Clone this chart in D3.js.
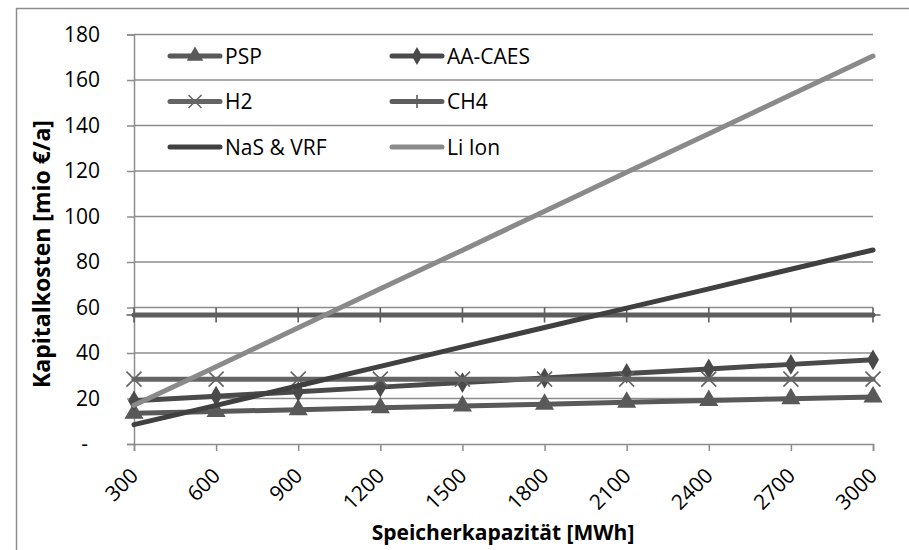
<!DOCTYPE html>
<html><head><meta charset="utf-8">
<script src="https://cdn.jsdelivr.net/npm/d3@7"></script>
<style>body{margin:0;background:#fff}svg{display:block}text{font-family:"Open Sans",sans-serif}</style>
</head><body><svg id="c" width="909" height="550"></svg>
<script>
const categories = [300,600,900,1200,1500,1800,2100,2400,2700,3000];
const yTicks = [0,20,40,60,80,100,120,140,160,180];
const psp    = [13.5,14.3,15.1,15.9,16.7,17.5,18.3,19.1,19.9,20.7];
const aacaes = [19,21,23,25,27,29,31,33,35,37];
const h2     = [28.5,28.5,28.5,28.5,28.5,28.5,28.5,28.5,28.5,28.5];
const ch4    = [56.7,56.7,56.7,56.7,56.7,56.7,56.7,56.7,56.7,56.7];
const nas    = [8.5,17,25.6,34.1,42.7,51.2,59.7,68.2,76.8,85.3];
const liion  = [17,34,51.1,68.2,85.2,102.3,119.4,136.4,153.5,170.5];
const seriesNames = ["PSP","AA-CAES","H2","CH4","NaS & VRF","Li Ion"];
const seriesValues = [psp,aacaes,h2,ch4,nas,liion];
const colors = ["#595959","#4a4a4a","#646464","#5e5e5e","#404040","#8a8a8a"];
const markers = ["triangle","diamond","x","plus","none","none"];

const svg = d3.select("#c");
svg.append("rect").attr("x",16.5).attr("y",8.5).attr("width",900).attr("height",560)
  .attr("fill","none").attr("stroke","#8c8c8c").attr("stroke-width",1.5);

const L=134,R=873,T=34.5,B=444;
const x = d3.scalePoint().domain(categories).range([L,R]);
const y = d3.scaleLinear().domain([0,180]).range([B,T]);

svg.append("g").selectAll("line").data(yTicks.filter(d=>d>0)).join("line")
  .attr("x1",L).attr("x2",R).attr("y1",d=>y(d)).attr("y2",d=>y(d))
  .attr("stroke","#8c8c8c").attr("stroke-width",1.5);

const yAxis = d3.axisLeft(y).tickValues(yTicks).tickSize(7).tickPadding(27)
  .tickFormat(d=>d===0?"-":d);
const gy = svg.append("g").attr("transform",`translate(${L},0)`).call(yAxis);
gy.select(".domain").attr("stroke","#8c8c8c").attr("stroke-width",1.5);
gy.selectAll(".tick line").attr("stroke","#8c8c8c").attr("stroke-width",1.5);
gy.selectAll(".tick text").attr("font-size",21).attr("fill","#000").attr("font-family","Open Sans")
  .attr("dx",d=>d===0?"-12":null);

const xAxis = d3.axisBottom(x).tickSize(7).tickPadding(6);
const gx = svg.append("g").attr("transform",`translate(0,${B})`).call(xAxis);
gx.select(".domain").attr("stroke","#8c8c8c").attr("stroke-width",1.5);
gx.selectAll(".tick line").attr("stroke","#8c8c8c").attr("stroke-width",1.5);
gx.selectAll(".tick text").attr("font-size",21).attr("fill","#000").attr("font-family","Open Sans")
  .attr("text-anchor","end").attr("dy",null).attr("y",0)
  .attr("transform","translate(5,33) rotate(-45)");

const line = d3.line().x((d,i)=>x(categories[i])).y(d=>y(d));
function marker(g,type,cx,cy,col,s){
  if(type==="triangle"){
    g.append("path").attr("d",d3.symbol(d3.symbolTriangle,s*s*0.7)())
     .attr("transform",`translate(${cx},${cy})`).attr("fill",col);
  } else if(type==="diamond"){
    g.append("path").attr("d",d3.symbol(d3.symbolDiamond,s*s*0.55)())
     .attr("transform",`translate(${cx},${cy})`).attr("fill",col);
  } else if(type==="x"){
    const h=s/2;
    g.append("path").attr("d",`M${cx-h},${cy-h}L${cx+h},${cy+h}M${cx-h},${cy+h}L${cx+h},${cy-h}`)
     .attr("stroke",col).attr("stroke-width",1.6).attr("fill","none");
  } else if(type==="plus"){
    const h=s/2;
    g.append("path").attr("d",`M${cx},${cy-h}L${cx},${cy+h}M${cx-h},${cy}L${cx+h},${cy}`)
     .attr("stroke",col).attr("stroke-width",1.6).attr("fill","none");
  }
}
const gl = svg.append("g");
seriesValues.forEach((vals,k)=>{
  const g = gl.append("g");
  g.append("path").datum(vals).attr("d",line).attr("fill","none")
   .attr("stroke",colors[k]).attr("stroke-width",5).attr("stroke-linecap","round");
  vals.forEach((v,i)=>marker(g,markers[k],x(categories[i]),y(v),colors[k],15));
});

const legRows=[56,101.5,147], legCols=[170,392];
seriesNames.forEach((n,k)=>{
  const cx=legCols[k%2], cy=legRows[Math.floor(k/2)];
  const g=svg.append("g");
  g.append("line").attr("x1",cx).attr("x2",cx+50).attr("y1",cy).attr("y2",cy)
   .attr("stroke",colors[k]).attr("stroke-width",5).attr("stroke-linecap","round");
  marker(g,markers[k],cx+25,cy,colors[k],13);
  g.append("text").attr("x",cx+55).attr("y",cy).attr("dy","0.36em")
   .attr("font-size",21).attr("fill","#000").text(n);
});

svg.append("text").attr("transform",`translate(50,254) rotate(-90)`)
  .attr("text-anchor","middle").attr("font-size",23).attr("font-weight","bold")
  .text("Kapitalkosten [mio €/a]");
svg.append("text").attr("x",503).attr("y",540).attr("text-anchor","middle")
  .attr("font-size",21).attr("font-weight","bold").text("Speicherkapazität [MWh]");
</script></body></html>
